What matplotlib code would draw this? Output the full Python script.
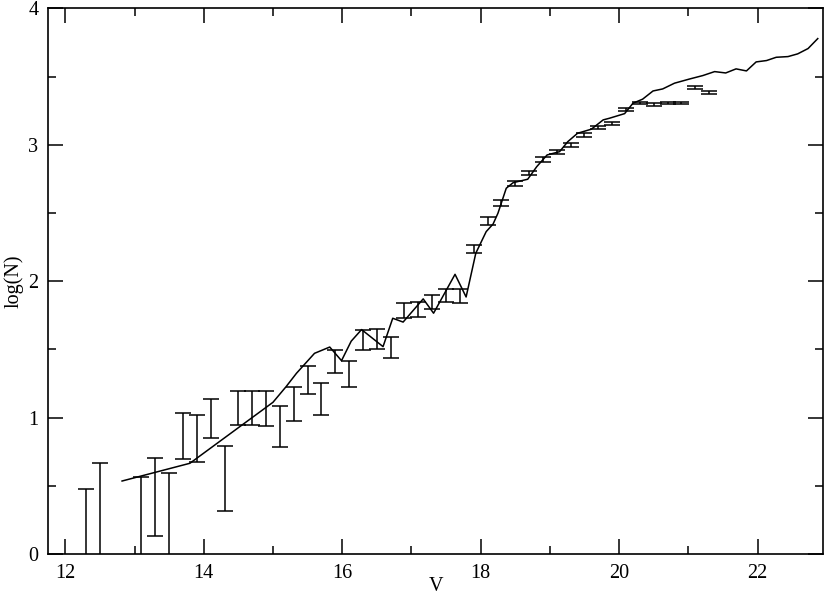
import numpy as np
import matplotlib
matplotlib.use("Agg")
import matplotlib.pyplot as plt
from matplotlib.ticker import MultipleLocator

# observed counts: V bin centre, lower and upper end of the error bar
v_obs = [12.3, 12.5, 13.1, 13.3, 13.5, 13.7, 13.9, 14.1, 14.3, 14.5, 14.7, 14.9,
         15.1, 15.3, 15.5, 15.7, 15.9, 16.1, 16.3, 16.5, 16.7, 16.9, 17.1, 17.3,
         17.5, 17.7, 17.9, 18.1, 18.3, 18.5, 18.7, 18.9, 19.1, 19.3, 19.5, 19.7,
         19.9, 20.1, 20.3, 20.5, 20.7, 20.9, 21.1, 21.3]
logn_lo = [-0.3, -0.1, -0.2, 0.134, -0.1, 0.694, 0.677, 0.850, 0.317, 0.944, 0.944, 0.940,
           0.787, 0.977, 1.173, 1.017, 1.325, 1.224, 1.496, 1.505, 1.439, 1.732, 1.740, 1.796,
           1.848, 1.842, 2.205, 2.412, 2.551, 2.698, 2.779, 2.876, 2.933, 2.982, 3.059, 3.114,
           3.145, 3.248, 3.297, 3.284, 3.297, 3.297, 3.409, 3.372]
logn_hi = [0.477, 0.665, 0.567, 0.704, 0.592, 1.036, 1.021, 1.134, 0.792, 1.197, 1.197, 1.197,
           1.087, 1.227, 1.378, 1.251, 1.496, 1.415, 1.642, 1.647, 1.591, 1.838, 1.845, 1.901,
           1.945, 1.941, 2.265, 2.469, 2.595, 2.735, 2.810, 2.908, 2.962, 3.011, 3.089, 3.138,
           3.169, 3.272, 3.316, 3.304, 3.316, 3.316, 3.433, 3.394]

# model curve
v_model = [12.82, 13.80, 15.0, 15.19, 15.34, 15.60, 15.82, 15.99, 16.13, 16.28, 16.59,
           16.73, 16.88, 17.17, 17.32, 17.63, 17.79, 17.93, 18.08, 18.18, 18.25, 18.37,
           18.47, 18.68, 18.81, 18.96, 19.14, 19.26, 19.40, 19.60, 19.77, 19.86, 20.08,
           20.20, 20.34, 20.49, 20.63, 20.80, 21.02, 21.21, 21.38, 21.54, 21.69, 21.84,
           21.98, 22.13, 22.27, 22.44, 22.58, 22.73, 22.87]
logn_model = [0.535, 0.665, 1.112, 1.227, 1.325, 1.471, 1.517, 1.417, 1.560, 1.645, 1.520,
              1.728, 1.700, 1.870, 1.765, 2.050, 1.884, 2.205, 2.363, 2.419, 2.498, 2.681,
              2.722, 2.747, 2.839, 2.925, 2.949, 3.023, 3.084, 3.114, 3.182, 3.194, 3.228,
              3.304, 3.334, 3.394, 3.409, 3.451, 3.482, 3.507, 3.536, 3.526, 3.556, 3.541,
              3.607, 3.617, 3.641, 3.646, 3.666, 3.705, 3.778]

plt.rcParams['font.family'] = ['Liberation Serif', 'DejaVu Serif']

fig = plt.figure(figsize=(8.30, 6.01), dpi=100)
ax = fig.add_axes([48 / 830, 47 / 601, 775.3 / 830, 545.7 / 601])

lo = np.array(logn_lo)
hi = np.array(logn_hi)
mid = (lo + hi) / 2
half = (hi - lo) / 2
ax.errorbar(v_obs, mid, yerr=half, fmt='none', ecolor='black', elinewidth=1.1,
            capsize=5.5, capthick=1.1)
ax.plot(v_model, logn_model, color='black', lw=1.1)

ax.set_xlim(11.75, 22.95)
ax.set_ylim(0, 4)
ax.xaxis.set_major_locator(MultipleLocator(2))
ax.xaxis.set_minor_locator(MultipleLocator(1))
ax.yaxis.set_major_locator(MultipleLocator(1))
ax.yaxis.set_minor_locator(MultipleLocator(0.5))
ax.tick_params(which='both', direction='in', top=True, right=True, labelsize=14.5, width=1.1)
ax.tick_params(which='major', length=11, pad=7)
ax.tick_params(which='minor', length=5.5)
for s in ax.spines.values():
    s.set_linewidth(1.2)

ax.set_xlabel("V", fontsize=14.5, labelpad=-4)
ax.set_ylabel("log(N)", fontsize=14.5, labelpad=3)

fig.savefig("out.png", dpi=100)
